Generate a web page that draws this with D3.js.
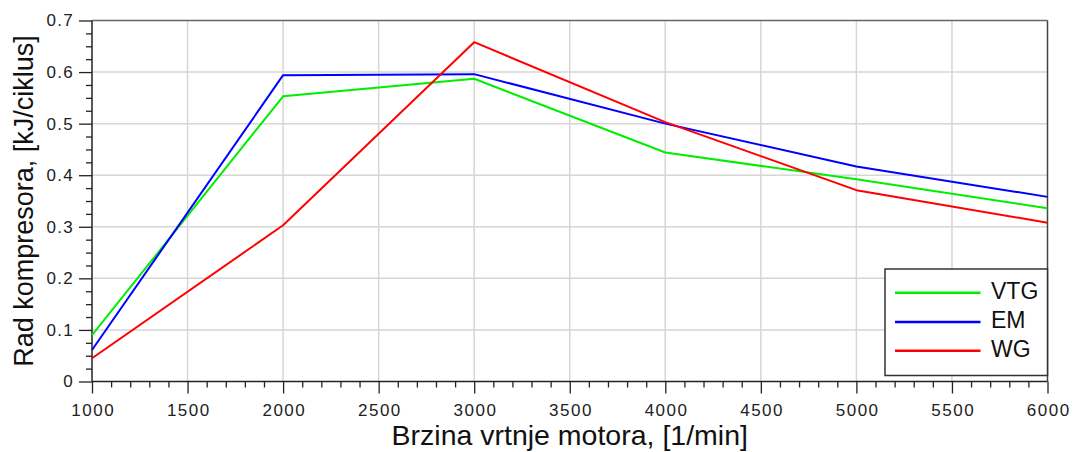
<!DOCTYPE html>
<html><head><meta charset="utf-8">
<script src="https://cdn.jsdelivr.net/npm/d3@7"></script>
<style>
body{margin:0;background:#fff}
svg{display:block;font-family:"Liberation Sans",Arial,Helvetica,sans-serif}
</style></head>
<body><svg id="c" width="1073" height="452"></svg>
<script>
// ---- data ----
const rpm = [1000, 2000, 3000, 4000, 5000, 6000];
const vtg = [0.090, 0.553, 0.587, 0.444, 0.392, 0.336];
const em  = [0.061, 0.594, 0.596, 0.500, 0.417, 0.358];
const wg  = [0.045, 0.303, 0.658, 0.503, 0.371, 0.308];
const seriesNames = ["VTG", "EM", "WG"];
const xTicks = [1000, 1500, 2000, 2500, 3000, 3500, 4000, 4500, 5000, 5500, 6000];
const yTicks = [0, 0.1, 0.2, 0.3, 0.4, 0.5, 0.6, 0.7];
const xMinorStep = 100;
const yMinorStep = 0.025;
const xLabel = "Brzina vrtnje motora, [1/min]";
const yLabel = "Rad kompresora, [kJ/ciklus]";

// ---- styles ----
const colors = ["#00ee00", "#0000ff", "#ff0000"];
const series = [vtg, em, wg];
const L = 92, R = 1047.5, T = 20.5, B = 381.5;

const svg = d3.select("#c");
const x = d3.scaleLinear().domain([1000, 6000]).range([L, R]);
const y = d3.scaleLinear().domain([0, 0.7]).range([B, T]);

// gridlines
const grid = svg.append("g").attr("stroke", "#d6d6d6").attr("stroke-width", 1.5);
grid.selectAll("line.v").data(xTicks.slice(1, -1)).join("line")
  .attr("x1", d => x(d)).attr("x2", d => x(d)).attr("y1", T).attr("y2", B);
grid.selectAll("line.h").data(yTicks.slice(1, -1)).join("line")
  .attr("y1", d => y(d)).attr("y2", d => y(d)).attr("x1", L).attr("x2", R);

// minor ticks
const xMinor = d3.range(1000, 6001, xMinorStep).filter(v => v % 500 !== 0);
const yMinor = d3.range(0, 0.7001, yMinorStep).map(v => +v.toFixed(3)).filter(v => Math.abs(v * 10 - Math.round(v * 10)) > 1e-6);

const xMinAxis = d3.axisBottom(x).tickValues(xMinor).tickSize(6).tickFormat("");
svg.append("g").attr("transform", `translate(0,${B})`).call(xMinAxis)
  .call(g => g.select(".domain").remove())
  .call(g => g.selectAll("line").attr("stroke", "#222").attr("stroke-width", 1.3));
const yMinAxis = d3.axisLeft(y).tickValues(yMinor).tickSize(6).tickFormat("");
svg.append("g").attr("transform", `translate(${L},0)`).call(yMinAxis)
  .call(g => g.select(".domain").remove())
  .call(g => g.selectAll("line").attr("stroke", "#222").attr("stroke-width", 1.3));

// major axes
const xAxis = d3.axisBottom(x).tickValues(xTicks).tickSize(12).tickPadding(10).tickFormat(d3.format("d"));
svg.append("g").attr("transform", `translate(0,${B})`).call(xAxis)
  .call(g => g.select(".domain").remove())
  .call(g => g.selectAll("line").attr("stroke", "#222").attr("stroke-width", 1.3))
  .call(g => g.selectAll("text").attr("fill", "#222").attr("font-size", 17)
      .attr("font-family", "Liberation Sans, Arial, sans-serif")
      .style("letter-spacing", "1.5px").attr("dx", "0.75px"));
const yAxis = d3.axisLeft(y).tickValues(yTicks).tickSize(13).tickPadding(5).tickFormat(d => d === 0 ? "0" : d3.format(".1f")(d));
svg.append("g").attr("transform", `translate(${L},0)`).call(yAxis)
  .call(g => g.select(".domain").remove())
  .call(g => g.selectAll("line").attr("stroke", "#222").attr("stroke-width", 1.3))
  .call(g => g.selectAll("text").attr("fill", "#222").attr("font-size", 17)
      .attr("font-family", "Liberation Sans, Arial, sans-serif")
      .style("letter-spacing", "1.3px"));

// frame
svg.append("line").attr("x1", L).attr("x2", R).attr("y1", T).attr("y2", T).attr("stroke", "#666").attr("stroke-width", 1.5);
svg.append("line").attr("x1", R).attr("x2", R).attr("y1", T).attr("y2", B).attr("stroke", "#444").attr("stroke-width", 1.5);
svg.append("line").attr("x1", L).attr("x2", L).attr("y1", T).attr("y2", B).attr("stroke", "#222").attr("stroke-width", 1.5);
svg.append("line").attr("x1", L).attr("x2", R).attr("y1", B).attr("y2", B).attr("stroke", "#222").attr("stroke-width", 1.5);

// lines
const line = d3.line().x((d, i) => x(rpm[i])).y(d => y(d));
series.forEach((s, k) => {
  svg.append("path").datum(s).attr("d", line).attr("fill", "none")
    .attr("stroke", colors[k]).attr("stroke-width", 2).attr("stroke-linejoin", "round");
});

// legend
const lg = svg.append("g");
lg.append("rect").attr("x", 885).attr("y", 269).attr("width", R - 885).attr("height", 106.5)
  .attr("fill", "#fff").attr("stroke", "#333").attr("stroke-width", 1.5);
const ly = [292.7, 322, 350.7];
seriesNames.forEach((n, k) => {
  lg.append("line").attr("x1", 895).attr("x2", 980.5).attr("y1", ly[k]).attr("y2", ly[k])
    .attr("stroke", colors[k]).attr("stroke-width", 2.6);
  lg.append("text").attr("x", 991).attr("y", ly[k] + 5.8).attr("font-size", 23)
    .attr("fill", "#111").text(n);
});

// axis titles
svg.append("text").attr("x", (L + R) / 2).attr("y", 445).attr("text-anchor", "middle")
  .attr("font-size", 28.5).attr("fill", "#111").text(xLabel);
svg.append("text").attr("transform", `translate(33,${(T + B) / 2}) rotate(-90)`)
  .attr("text-anchor", "middle").attr("font-size", 27).attr("fill", "#111").text(yLabel);
</script>
</body></html>
